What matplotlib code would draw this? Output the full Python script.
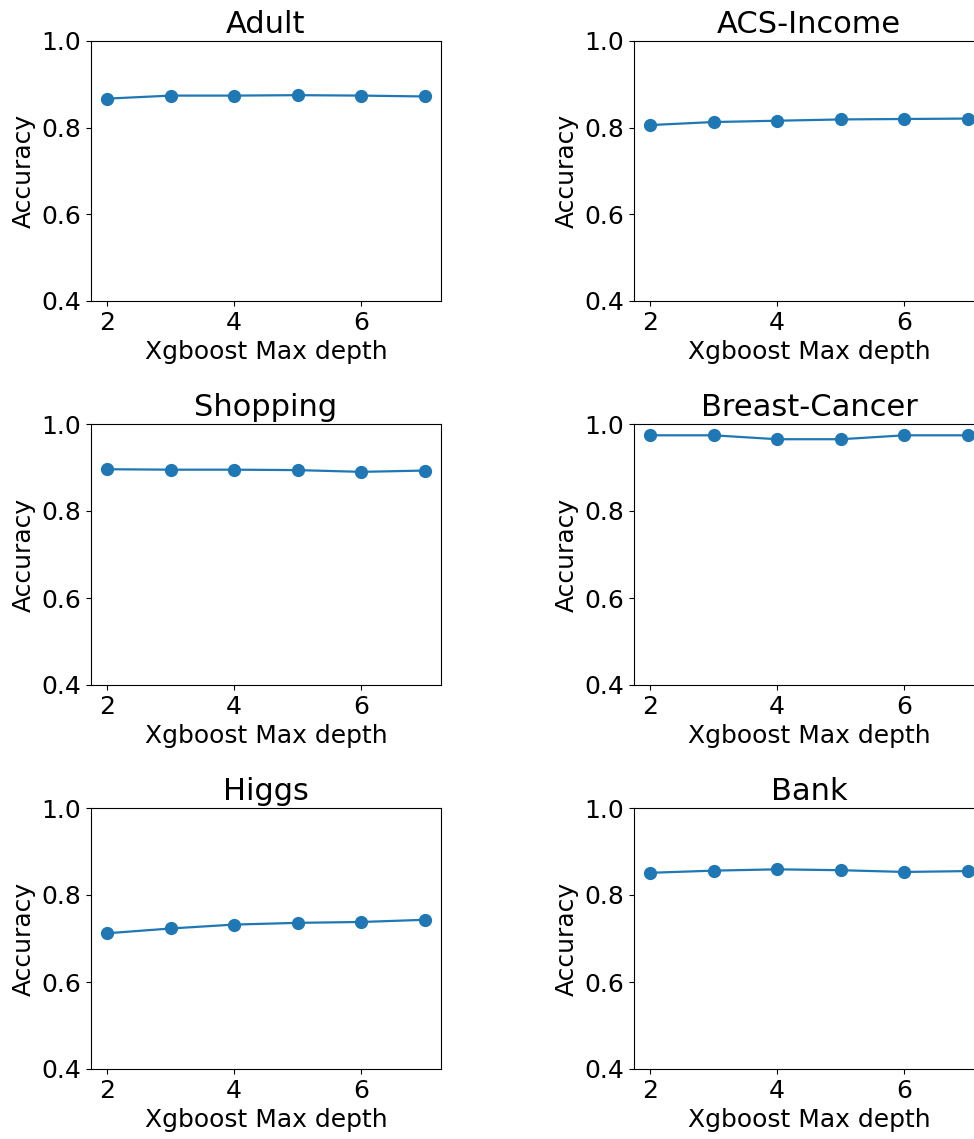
import matplotlib
matplotlib.use("Agg")
import matplotlib.pyplot as plt

depths = [2, 3, 4, 5, 6, 7]
titles = ["Adult", "ACS-Income", "Shopping", "Breast-Cancer", "Higgs", "Bank"]

adult = [0.867, 0.874, 0.874, 0.875, 0.874, 0.872]
acs_income = [0.806, 0.813, 0.816, 0.819, 0.820, 0.821]
shopping = [0.896, 0.895, 0.895, 0.894, 0.890, 0.893]
breast_cancer = [0.974, 0.974, 0.965, 0.965, 0.974, 0.974]
higgs = [0.712, 0.723, 0.732, 0.736, 0.738, 0.743]
bank = [0.851, 0.856, 0.859, 0.857, 0.853, 0.855]

series = [adult, acs_income, shopping, breast_cancer, higgs, bank]

W, H = 974, 1139
fig = plt.figure(figsize=(W / 100, H / 100), dpi=100)

# axes boxes in pixels (left, top, right, bottom)
col_x = [(91, 441), (634, 984)]
row_y = [(41, 301), (424, 685), (808, 1069)]

for i, (title, vals) in enumerate(zip(titles, series)):
    r, c = divmod(i, 2)
    x0, x1 = col_x[c]
    y0, y1 = row_y[r]
    ax = fig.add_axes([x0 / W, 1 - y1 / H, (x1 - x0) / W, (y1 - y0) / H])
    ax.plot(depths, vals, marker="o", color="#1f77b4", linewidth=1.6, markersize=8.5)
    ax.set_ylim(0.4, 1.0)
    ax.set_yticks([0.4, 0.6, 0.8, 1.0])
    ax.set_xticks([2, 4, 6])
    ax.set_title(title, fontsize=22)
    ax.set_xlabel("Xgboost Max depth", fontsize=18)
    ax.set_ylabel("Accuracy", fontsize=18)
    ax.tick_params(labelsize=18)

fig.savefig("out.png", dpi=100)
